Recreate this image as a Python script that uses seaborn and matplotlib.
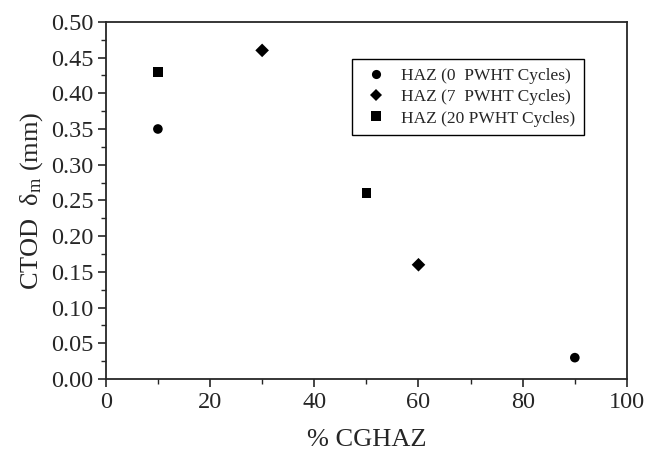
import pandas as pd
import matplotlib
matplotlib.use("Agg")
import matplotlib.pyplot as plt
from matplotlib.ticker import MultipleLocator, FormatStrFormatter
import seaborn as sns

# ---------------- DATA ----------------
series = ["HAZ (0  PWHT Cycles)", "HAZ (7  PWHT Cycles)", "HAZ (20 PWHT Cycles)"]
cghaz_0 = [10, 90]
ctod_0 = [0.35, 0.03]
cghaz_7 = [30, 60]
ctod_7 = [0.46, 0.16]
cghaz_20 = [10, 50]
ctod_20 = [0.43, 0.26]

df = pd.DataFrame({
    "cghaz": cghaz_0 + cghaz_7 + cghaz_20,
    "ctod": ctod_0 + ctod_7 + ctod_20,
    "series": [series[0]] * 2 + [series[1]] * 2 + [series[2]] * 2,
})

# ---------------- STYLE ----------------
sns.set_style("ticks")
plt.rcParams["font.family"] = ["Liberation Serif", "DejaVu Serif"]
plt.rcParams["mathtext.fontset"] = "custom"
plt.rcParams["mathtext.rm"] = "Liberation Serif"
plt.rcParams["mathtext.it"] = "Liberation Serif:italic"

fig = plt.figure(figsize=(6.45, 4.54), dpi=100)
ax = fig.add_axes([0.164, 0.165, 0.808, 0.787])

sns.scatterplot(
    data=df, x="cghaz", y="ctod", hue="series", style="series",
    hue_order=series, style_order=series,
    palette=["black"] * 3, markers={series[0]: "o", series[1]: "D", series[2]: "s"},
    s=48, edgecolor="black", linewidth=0, ax=ax
)

ax.set_xlim(0, 100)
ax.set_ylim(0, 0.5)
ax.xaxis.set_major_locator(MultipleLocator(20))
ax.xaxis.set_minor_locator(MultipleLocator(10))
ax.yaxis.set_major_locator(MultipleLocator(0.05))
ax.yaxis.set_minor_locator(MultipleLocator(0.025))
ax.yaxis.set_major_formatter(FormatStrFormatter("%.2f"))

ax.tick_params(axis="both", which="major", direction="out", length=6, width=1.2,
               labelsize=17.5, top=False, right=False, pad=3)
ax.tick_params(axis="both", which="minor", direction="out", length=3.5, width=1.0,
               top=False, right=False)
for sp in ax.spines.values():
    sp.set_linewidth(1.3)
    sp.set_visible(True)

ax.set_xlabel("% CGHAZ", fontsize=19, labelpad=12)
ax.set_ylabel("CTOD  δ$_{\\mathrm{m}}$ (mm)", fontsize=19, labelpad=4)

# ---------------- LEGEND ----------------
leg = ax.legend(loc="upper left", bbox_to_anchor=(0.472, 0.896), borderaxespad=0,
                fontsize=12.5, frameon=True, fancybox=False, edgecolor="black",
                framealpha=1, handlelength=1.8, handletextpad=0.55, borderpad=0.5,
                labelspacing=0.3, markerscale=0.95)
leg.get_frame().set_linewidth(1.0)

plt.savefig("out.png", dpi=100)
